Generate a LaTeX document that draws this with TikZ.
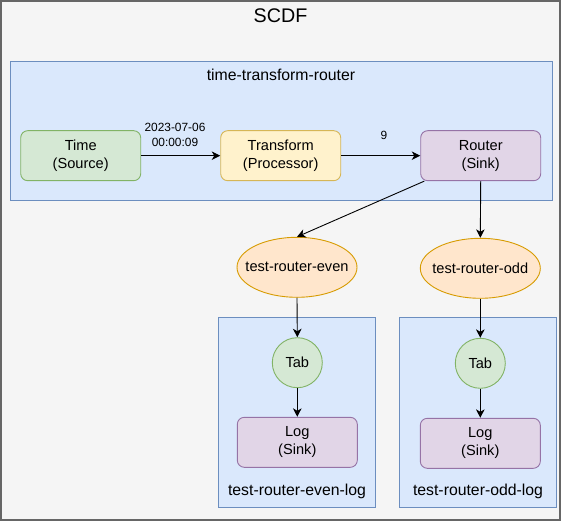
\documentclass[tikz,border=0pt]{standalone}
\usepackage{fontspec}
\setmainfont{Liberation Sans}
\usetikzlibrary{positioning,arrows.meta,fit,backgrounds,shapes.geometric}

\definecolor{srcfill}{HTML}{D5E8D4}
\definecolor{srcline}{HTML}{82B366}
\definecolor{procfill}{HTML}{FFF2CC}
\definecolor{procline}{HTML}{D6B656}
\definecolor{sinkfill}{HTML}{E1D5E7}
\definecolor{sinkline}{HTML}{9673A6}
\definecolor{topicfill}{HTML}{FFE6CC}
\definecolor{topicline}{HTML}{D79B00}
\definecolor{regionfill}{HTML}{DAE8FC}
\definecolor{regionline}{HTML}{6C8EBF}
\definecolor{framefill}{HTML}{F5F5F5}
\definecolor{frameline}{HTML}{666666}

\begin{document}
\begin{tikzpicture}[
    x=1pt, y=-1pt,
    app/.style={draw, rounded corners=7pt, line width=0.9pt, minimum width=120pt,
                minimum height=50pt, inner sep=0pt, align=center,
                font=\fontsize{14.6}{18.3}\selectfont},
    source/.style={app, fill=srcfill, draw=srcline},
    processor/.style={app, fill=procfill, draw=procline},
    sink/.style={app, fill=sinkfill, draw=sinkline},
    topic/.style={ellipse, draw=topicline, fill=topicfill, line width=0.9pt,
                  minimum width=120pt, minimum height=60pt, inner sep=0pt,
                  font=\fontsize{14.6}{18.3}\selectfont},
    tap/.style={circle, draw=srcline, fill=srcfill, line width=0.9pt,
                minimum size=50pt, inner sep=0pt, font=\fontsize{14.6}{18.3}\selectfont},
    stream region/.style={draw=regionline, fill=regionfill, line width=0.9pt, inner sep=0pt},
    stream label/.style={font=\fontsize{15.8}{19}\selectfont, inner sep=0pt},
    elabel/.style={font=\fontsize{11.9}{15.4}\selectfont, align=center, inner sep=0pt},
    flow/.style={-{Stealth[length=8.5pt,width=8.5pt,inset=2.5pt]}, line width=0.9pt}
]
\useasboundingbox (0,0) rectangle (561,521);

% Apps of the time-transform-router stream
\node[source] (Time) at (80.7,155.7) {Time\\(Source)};
\node[processor] (Transform) at (280.7,155.7) {Transform\\(Processor)};
\node[sink] (Router) at (480.7,155.7) {Router\\(Sink)};

% Destinations written by the router (text boxed to zero width, so the ellipse keeps its size)
\node[topic] (EvenTopic) at (297,267.3) {\makebox[0pt]{test-router-even}};
\node[topic] (OddTopic) at (480.3,268.3) {\makebox[0pt]{test-router-odd}};

% Tap streams: one per destination
\node[tap] (EvenTab) at (297.3,362.7) {Tab};
\node[sink] (EvenLog) at (297.3,442.3) {Log\\(Sink)};
\node[tap] (OddTab) at (480.3,363.3) {Tab};
\node[sink] (OddLog) at (480.3,443.3) {Log\\(Sink)};

% Main stream flow
\draw[flow] (Time.east) -- (Transform.west);
\node[elabel] (TimeMsg) at (175,135) {2023-07-06\\00:00:09};
\draw[flow] (Transform.east) -- (Router.west);
\node[elabel] (RouterMsg) at (384,135) {9};

% Router fan-out (routing expression: even / odd)
\draw[flow] ([xshift=4pt]Router.south west) -- (EvenTopic.north);
\draw[flow] (Router.south) -- (OddTopic.north);

% Tap streams read the destinations
\draw[flow] (EvenTopic.south) -- (EvenTab.north);
\draw[flow] (EvenTab.south) -- (EvenLog.north);
\draw[flow] (OddTopic.south) -- (OddTab.north);
\draw[flow] (OddTab.south) -- (OddLog.north);

% Stream regions behind the apps
\begin{scope}[on background layer]
  % SCDF server - outer frame
  \node[draw=frameline, fill=framefill, line width=1.2pt, inner sep=0pt,
        fit={(1,1) (560,520)}] (SCDF) {};
  % time-transform-router stream
  \node[stream region, fit={(10,61) (552,200)}] (TTR) {};
  % tap streams
  \node[stream region, fit={(218.3,317.3) (375.7,507.3)}] (EvenStream) {};
  \node[stream region, fit={(399.3,317.3) (556.7,507.3)}] (OddStream) {};
\end{scope}
% Labels of the regions
\node[font=\fontsize{19.7}{23}\selectfont, inner sep=0pt] (SCDFlabel) at (280.5,15.5) {SCDF};
\node[stream label] (TTRlabel) at (281,75) {time-transform-router};
\node[stream label] (EvenStreamlabel) at (297,491.7) {test-router-even-log};
\node[stream label] (OddStreamlabel) at (478,491.7) {test-router-odd-log};

\end{tikzpicture}
\end{document}
